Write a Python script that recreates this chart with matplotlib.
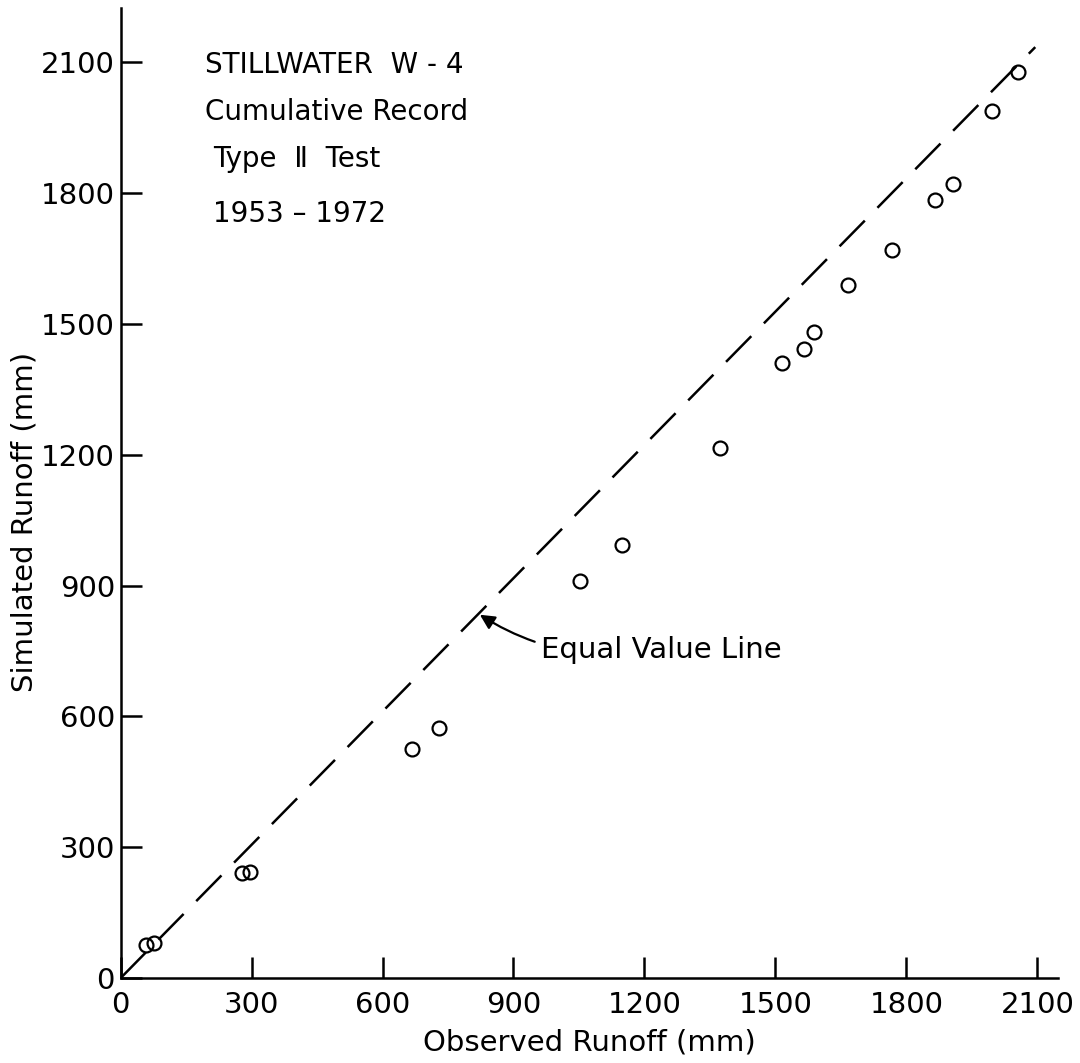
import matplotlib
matplotlib.use("Agg")
import matplotlib.pyplot as plt

# 1. DATA
observed = [58, 77, 278, 297, 667, 730, 1052, 1148, 1372, 1514,
            1565, 1588, 1667, 1768, 1866, 1906, 1995, 2056]
simulated = [75, 81, 240, 244, 525, 573, 911, 993, 1215, 1411,
             1442, 1482, 1589, 1669, 1784, 1821, 1988, 2076]

# the hand-drawn equal value line (drawn slightly steeper than 1:1)
line_x = [0, 2095]
line_y = [0, 2134]

ticks = [0, 300, 600, 900, 1200, 1500, 1800, 2100]
tick_labels = ["0", "300", "600", "900", "1200", "1500", "1800", "2100"]

title_lines = ["STILLWATER  W - 4", "Cumulative Record", "Type  \u2161  Test", "1953 \u2013 1972"]

# 2. FIGURE
plt.rcParams['font.family'] = ['DejaVu Sans']
fig = plt.figure(figsize=(10.8, 10.63), dpi=100)
ax = fig.add_axes([0.1116, 0.0798, 0.868, 0.9124])

ax.plot(line_x, line_y, color='black', linewidth=1.8,
        linestyle=(0, (14.4, 7.2)), zorder=2)
ax.plot(observed, simulated, linestyle='none', marker='o', markersize=10,
        markerfacecolor='none', markeredgecolor='black', markeredgewidth=1.6,
        zorder=3)

# 3. AXES STYLE
ax.set_xlim(0, 2147)
ax.set_ylim(0, 2223)
for side in ['top', 'right']:
    ax.spines[side].set_visible(False)
for side in ['left', 'bottom']:
    ax.spines[side].set_linewidth(1.8)

ax.set_xticks(ticks)
ax.set_xticklabels(tick_labels)
ax.set_yticks(ticks)
ax.set_yticklabels(tick_labels)
ax.tick_params(direction='in', length=15, width=1.8, labelsize=21)
ax.tick_params(axis='x', pad=9)
ax.tick_params(axis='y', pad=4)

ax.set_xlabel("Observed Runoff (mm)", fontsize=21)
ax.set_ylabel("Simulated Runoff (mm)", fontsize=21)
ax.xaxis.set_label_coords(0.5, -0.052)
ax.yaxis.set_label_coords(-0.088, 0.47)

# 4. TEXT BLOCK AND ANNOTATION
title_x = [194, 194, 212, 212]
title_y = [2075, 1967, 1860, 1734]
for txt, tx, ty in zip(title_lines, title_x, title_y):
    ax.text(tx, ty, txt, fontsize=20, ha='left', va='baseline')

ax.annotate("Equal Value Line", xy=(823, 833), xytext=(964, 734),
            fontsize=21, ha='left', va='baseline',
            arrowprops=dict(arrowstyle='-|>', color='black', linewidth=1.6,
                            mutation_scale=22, shrinkA=3, shrinkB=0,
                            connectionstyle='arc3,rad=-0.2'))

plt.savefig("out.png", dpi=100)
